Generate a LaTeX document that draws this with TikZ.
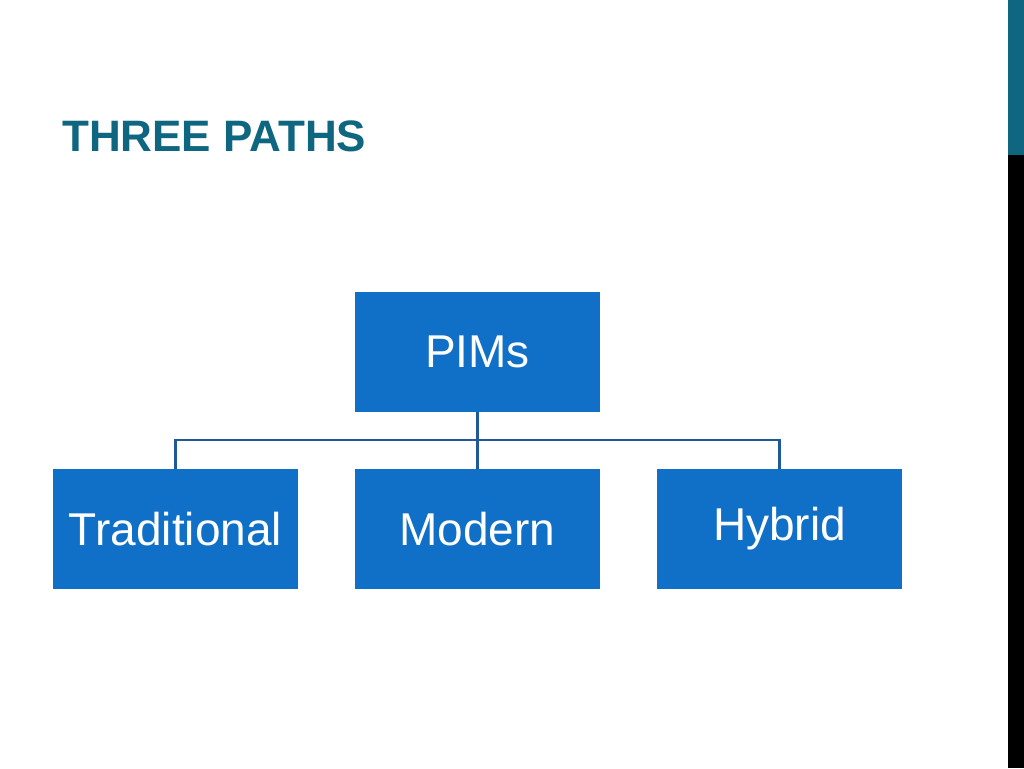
\documentclass[tikz,border=0pt]{standalone}
\usepackage{fontspec}
\setmainfont{Liberation Sans}
\definecolor{teal}{HTML}{0E6680}
\definecolor{boxblue}{HTML}{1070C8}
\definecolor{linkblue}{HTML}{1F5A96}
\begin{document}
\begin{tikzpicture}[x=1pt,y=-1pt,
  box/.style={fill=boxblue,draw=none,minimum width=245pt,minimum height=120pt,text=white,font=\fontsize{46}{50}\selectfont},
  link/.style={draw=linkblue,line width=2.5pt}]
\useasboundingbox (0,0) rectangle (1024,768);
\fill[white] (0,0) rectangle (1024,768);
\fill[teal] (1008,0) rectangle (1024,155);
\fill[black] (1008,155) rectangle (1024,768);
\node[anchor=base west,inner sep=0,text=teal,font=\fontsize{44}{48}\selectfont\bfseries] (title) at (62,151) {THREE PATHS};
\node[box] (pims) at (477.5,352) {PIMs};
\node[box] (trad) at (175.5,529) {Traditional};
\node[box] (mod) at (477.5,529) {Modern};
\node[box] (hyb) at (779.5,529) {Hybrid};
\coordinate (j) at (477.5,440);
\draw[link] (pims.south) -- (j);
\draw[link] (trad.north) |- (j) -| (hyb.north);
\draw[link] (j) -- (mod.north);
\end{tikzpicture}
\end{document}
